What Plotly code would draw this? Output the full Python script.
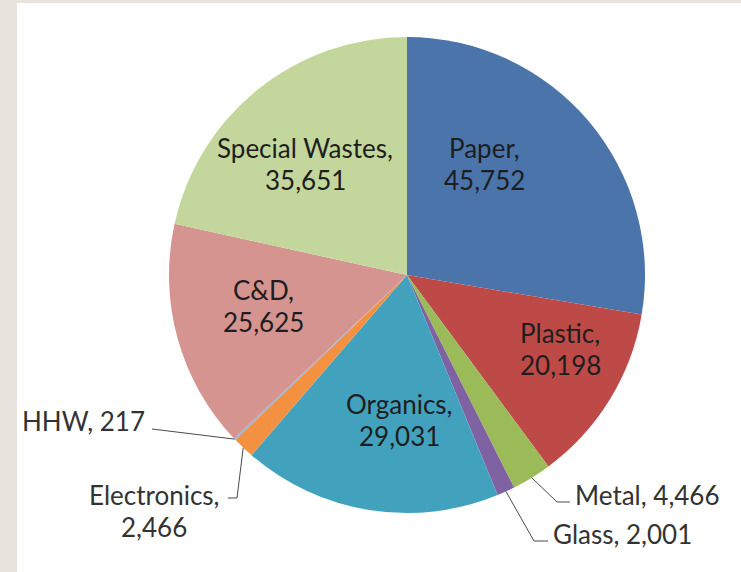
import math
import plotly.graph_objects as go

# Waste composition (tons)
categories = ["Paper", "Plastic", "Metal", "Glass", "Organics",
              "Electronics", "HHW", "C&D", "Special Wastes"]
tons = [45752, 20198, 4466, 2001, 29031, 2466, 217, 25625, 35651]
colors = ["#4a74aa", "#bd4a47", "#9bbb59", "#7f62a1", "#42a2bd",
          "#f39140", "#95b3d7", "#d69491", "#c3d69b"]

W, H = 741, 572
CX, CY, R = 407, 275, 238          # pie centre and radius, pixels


def px(x):
    return x / W


def py(y):
    return 1 - y / H


def fmt(v):
    return f"{v:,}"


fig = go.Figure(go.Pie(
    labels=categories,
    values=tons,
    sort=False,
    direction="clockwise",
    rotation=0,
    marker=dict(colors=colors, line=dict(width=0)),
    textinfo="none",
    hoverinfo="label+value",
    showlegend=False,
    domain=dict(x=[px(CX - R), px(CX + R)], y=[py(CY + R), py(CY - R)]),
))

# Slice edge point at the middle angle of a slice, derived from the values
total = sum(tons)


def edge_point(name, rfrac=1.0):
    i = categories.index(name)
    start = sum(tons[:i]) / total * 360
    mid = math.radians(start + tons[i] / total * 360 / 2)
    return CX + R * rfrac * math.sin(mid), CY - R * rfrac * math.cos(mid)


font_in = dict(family="Lato, Noto Sans, sans-serif", size=26, color="#1e1e1e")
font_out = dict(family="Lato, Noto Sans, sans-serif", size=26, color="#333333")

# Labels inside the large slices: (name, centre x, line-1 y, line-2 y)
inside = [
    ("Paper", 485, 148, 180),
    ("Special Wastes", 305, 148, 180),
    ("Plastic", 560, 333, 365),
    ("C&D", 263, 290, 322),
    ("Organics", 399, 404, 436),
]
annotations = []
for name, x, y1, y2 in inside:
    v = tons[categories.index(name)]
    annotations.append(dict(x=px(x), y=py(y1), text=name + ",", font=font_in))
    annotations.append(dict(x=px(x), y=py(y2), text=fmt(v), font=font_in))

# Outside labels
annotations.append(dict(x=px(147), y=py(421), xanchor="right",
                        text=f"HHW, {fmt(tons[categories.index('HHW')])}", font=font_out))
annotations.append(dict(x=px(154), y=py(495), text="Electronics,", font=font_out))
annotations.append(dict(x=px(154), y=py(527),
                        text=fmt(tons[categories.index("Electronics")]), font=font_out))
annotations.append(dict(x=px(573), y=py(495), xanchor="left",
                        text=f"Metal, {fmt(tons[categories.index('Metal')])}", font=font_out))
annotations.append(dict(x=px(551), y=py(534), xanchor="left",
                        text=f"Glass, {fmt(tons[categories.index('Glass')])}", font=font_out))
for a in annotations:
    a.update(xref="paper", yref="paper", showarrow=False,
             yanchor="middle", xanchor=a.get("xanchor", "center"))

# Leader lines: elbow points, then the slice edge point
leaders = [
    ("HHW", [(152, 429)]),
    ("Electronics", [(228, 498), (237, 498)]),
    ("Metal", [(570, 502), (557, 502)]),
    ("Glass", [(548, 541), (534, 541)]),
]
shapes = [dict(type="rect", xref="paper", yref="paper", x0=px(17), x1=1,
               y0=0, y1=py(3), fillcolor="white", line=dict(width=0),
               layer="below")]
for name, pts in leaders:
    ex, ey = edge_point(name)
    path_pts = pts + [(ex, ey)]
    d = "M " + " L ".join(f"{px(x)},{py(y)}" for x, y in path_pts)
    shapes.append(dict(type="path", xref="paper", yref="paper", path=d,
                       line=dict(color="#4a4a4a", width=1)))

fig.update_layout(
    width=W, height=H,
    margin=dict(l=0, r=0, t=0, b=0),
    paper_bgcolor="#e8e4dd",
    annotations=annotations,
    shapes=shapes,
)

fig.write_html("out.html")
